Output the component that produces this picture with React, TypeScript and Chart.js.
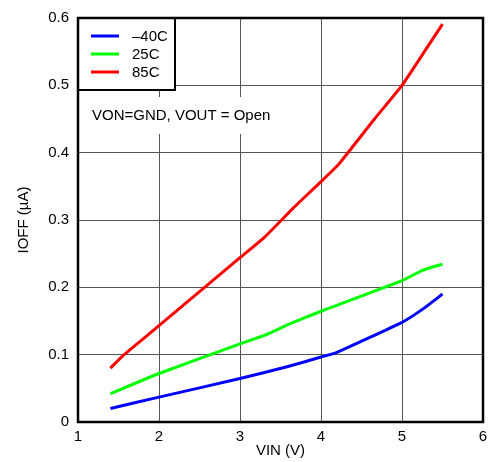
import React, { useEffect, useRef } from "react";
import { Chart, registerables } from "chart.js";

Chart.register(...registerables);

// Supply voltage sample points (V) for each temperature curve
const vinCold = [1.4, 2.0, 3.0, 3.58, 4.0, 4.19, 5.0, 5.26, 5.5];
const ioffCold = [0.020, 0.037, 0.0645, 0.082, 0.0965, 0.103, 0.148, 0.168, 0.190];

const vinRoom = [1.4, 2.0, 3.0, 3.3, 3.62, 4.0, 5.0, 5.26, 5.5];
const ioffRoom = [0.042, 0.072, 0.116, 0.1286, 0.146, 0.1645, 0.21, 0.2256, 0.2345];

const vinHot = [1.4, 1.55, 2.0, 3.0, 3.29, 3.66, 4.0, 4.22, 4.66, 5.0, 5.26, 5.5];
const ioffHot = [0.080, 0.098, 0.143, 0.244, 0.273, 0.318, 0.357, 0.383, 0.45, 0.5, 0.547, 0.591];

const seriesLabels = ["\u201340C", "25C", "85C"];
const seriesColors = ["#0000ff", "#00ff00", "#ff0000"];

const xTicks = [1, 2, 3, 4, 5, 6];
const yTicks = [0, 0.1, 0.2, 0.3, 0.4, 0.5, 0.6];

const conditionNote = "VON=GND, VOUT = Open";
const xTitle = "VIN (V)";
const yTitle = "IOFF (\u00b5A)";

const FONT = "'Liberation Sans', Arial, Helvetica, sans-serif";
const FONT_SIZE = 15;

function toPoints(xs: number[], ys: number[]) {
  return xs.map((x, i) => ({ x, y: ys[i] }));
}

const overlayPlugin = {
  id: "overlay",
  afterDraw(chart: any) {
    const { ctx } = chart;
    const { left, top, right, bottom } = chart.chartArea;
    ctx.save();

    // note box with white background over the grid
    ctx.fillStyle = "#ffffff";
    ctx.fillRect(left + 1, 97, 205, 37);
    ctx.fillStyle = "#000000";
    ctx.font = `${FONT_SIZE}px ${FONT}`;
    ctx.textBaseline = "middle";
    ctx.textAlign = "left";
    ctx.fillText(conditionNote, left + 14, 116);

    // legend box
    const lw = 97;
    const lh = 72;
    ctx.fillStyle = "#ffffff";
    ctx.fillRect(left, top, lw, lh);
    ctx.strokeStyle = "#000000";
    ctx.lineWidth = 2;
    ctx.strokeRect(left, top, lw, lh);
    seriesLabels.forEach((label, i) => {
      const y = top + 18 + i * 18;
      ctx.strokeStyle = seriesColors[i];
      ctx.lineWidth = 3;
      ctx.beginPath();
      ctx.moveTo(left + 13, y);
      ctx.lineTo(left + 41, y);
      ctx.stroke();
      ctx.fillStyle = "#000000";
      ctx.fillText(label, left + 54, y + 0.5);
    });

    // plot frame
    ctx.strokeStyle = "#000000";
    ctx.lineWidth = 2.5;
    ctx.strokeRect(left, top, right - left, bottom - top);
    ctx.restore();
  },
};

export default function App() {
  const canvasRef = useRef<HTMLCanvasElement | null>(null);

  useEffect(() => {
    if (!canvasRef.current) return;
    const chart = new Chart(canvasRef.current, {
      type: "line",
      data: {
        datasets: [
          { label: seriesLabels[0], data: toPoints(vinCold, ioffCold) },
          { label: seriesLabels[1], data: toPoints(vinRoom, ioffRoom) },
          { label: seriesLabels[2], data: toPoints(vinHot, ioffHot) },
        ].map((d, i) => ({
          ...d,
          borderColor: seriesColors[i],
          backgroundColor: seriesColors[i],
          borderWidth: 3,
          pointRadius: 0,
          tension: 0.15,
          fill: false,
        })),
      },
      options: {
        animation: false,
        responsive: false,
        maintainAspectRatio: false,
        layout: { padding: { top: 16, right: 19, left: 0, bottom: 0 } },
        plugins: {
          legend: { display: false },
          tooltip: { enabled: false },
        },
        scales: {
          x: {
            type: "linear",
            min: 1,
            max: 6,
            afterBuildTicks: (scale: any) => {
              scale.ticks = xTicks.map((v) => ({ value: v }));
            },
            afterFit: (scale: any) => {
              scale.height = 40;
            },
            grid: { color: "#555555", lineWidth: 1, drawTicks: false },
            border: { display: false },
            ticks: {
              color: "#000000",
              font: { family: FONT, size: FONT_SIZE },
              padding: 6,
              callback: (v: any) => String(v),
            },
            title: {
              display: true,
              text: xTitle,
              color: "#000000",
              font: { family: FONT, size: FONT_SIZE },
              padding: { top: 0, bottom: 2 },
            },
          },
          y: {
            type: "linear",
            min: 0,
            max: 0.6,
            afterBuildTicks: (scale: any) => {
              scale.ticks = yTicks.map((v) => ({ value: v }));
            },
            afterFit: (scale: any) => {
              scale.width = 78;
            },
            grid: { color: "#555555", lineWidth: 1, drawTicks: false },
            border: { display: false },
            ticks: {
              color: "#000000",
              font: { family: FONT, size: FONT_SIZE },
              padding: 9,
              callback: (v: any) => (v === 0 ? "0" : Number(v).toFixed(1)),
            },
            title: {
              display: true,
              text: yTitle,
              color: "#000000",
              font: { family: FONT, size: FONT_SIZE },
              padding: { top: 15, bottom: 0 },
            },
          },
        },
      },
      plugins: [overlayPlugin],
    } as any);
    return () => chart.destroy();
  }, []);

  return (
    <div style={{ position: "fixed", left: 0, top: 0, width: 502, height: 462, background: "#ffffff" }}>
      <canvas ref={canvasRef} width={502} height={462} style={{ display: "block" }} />
    </div>
  );
}
